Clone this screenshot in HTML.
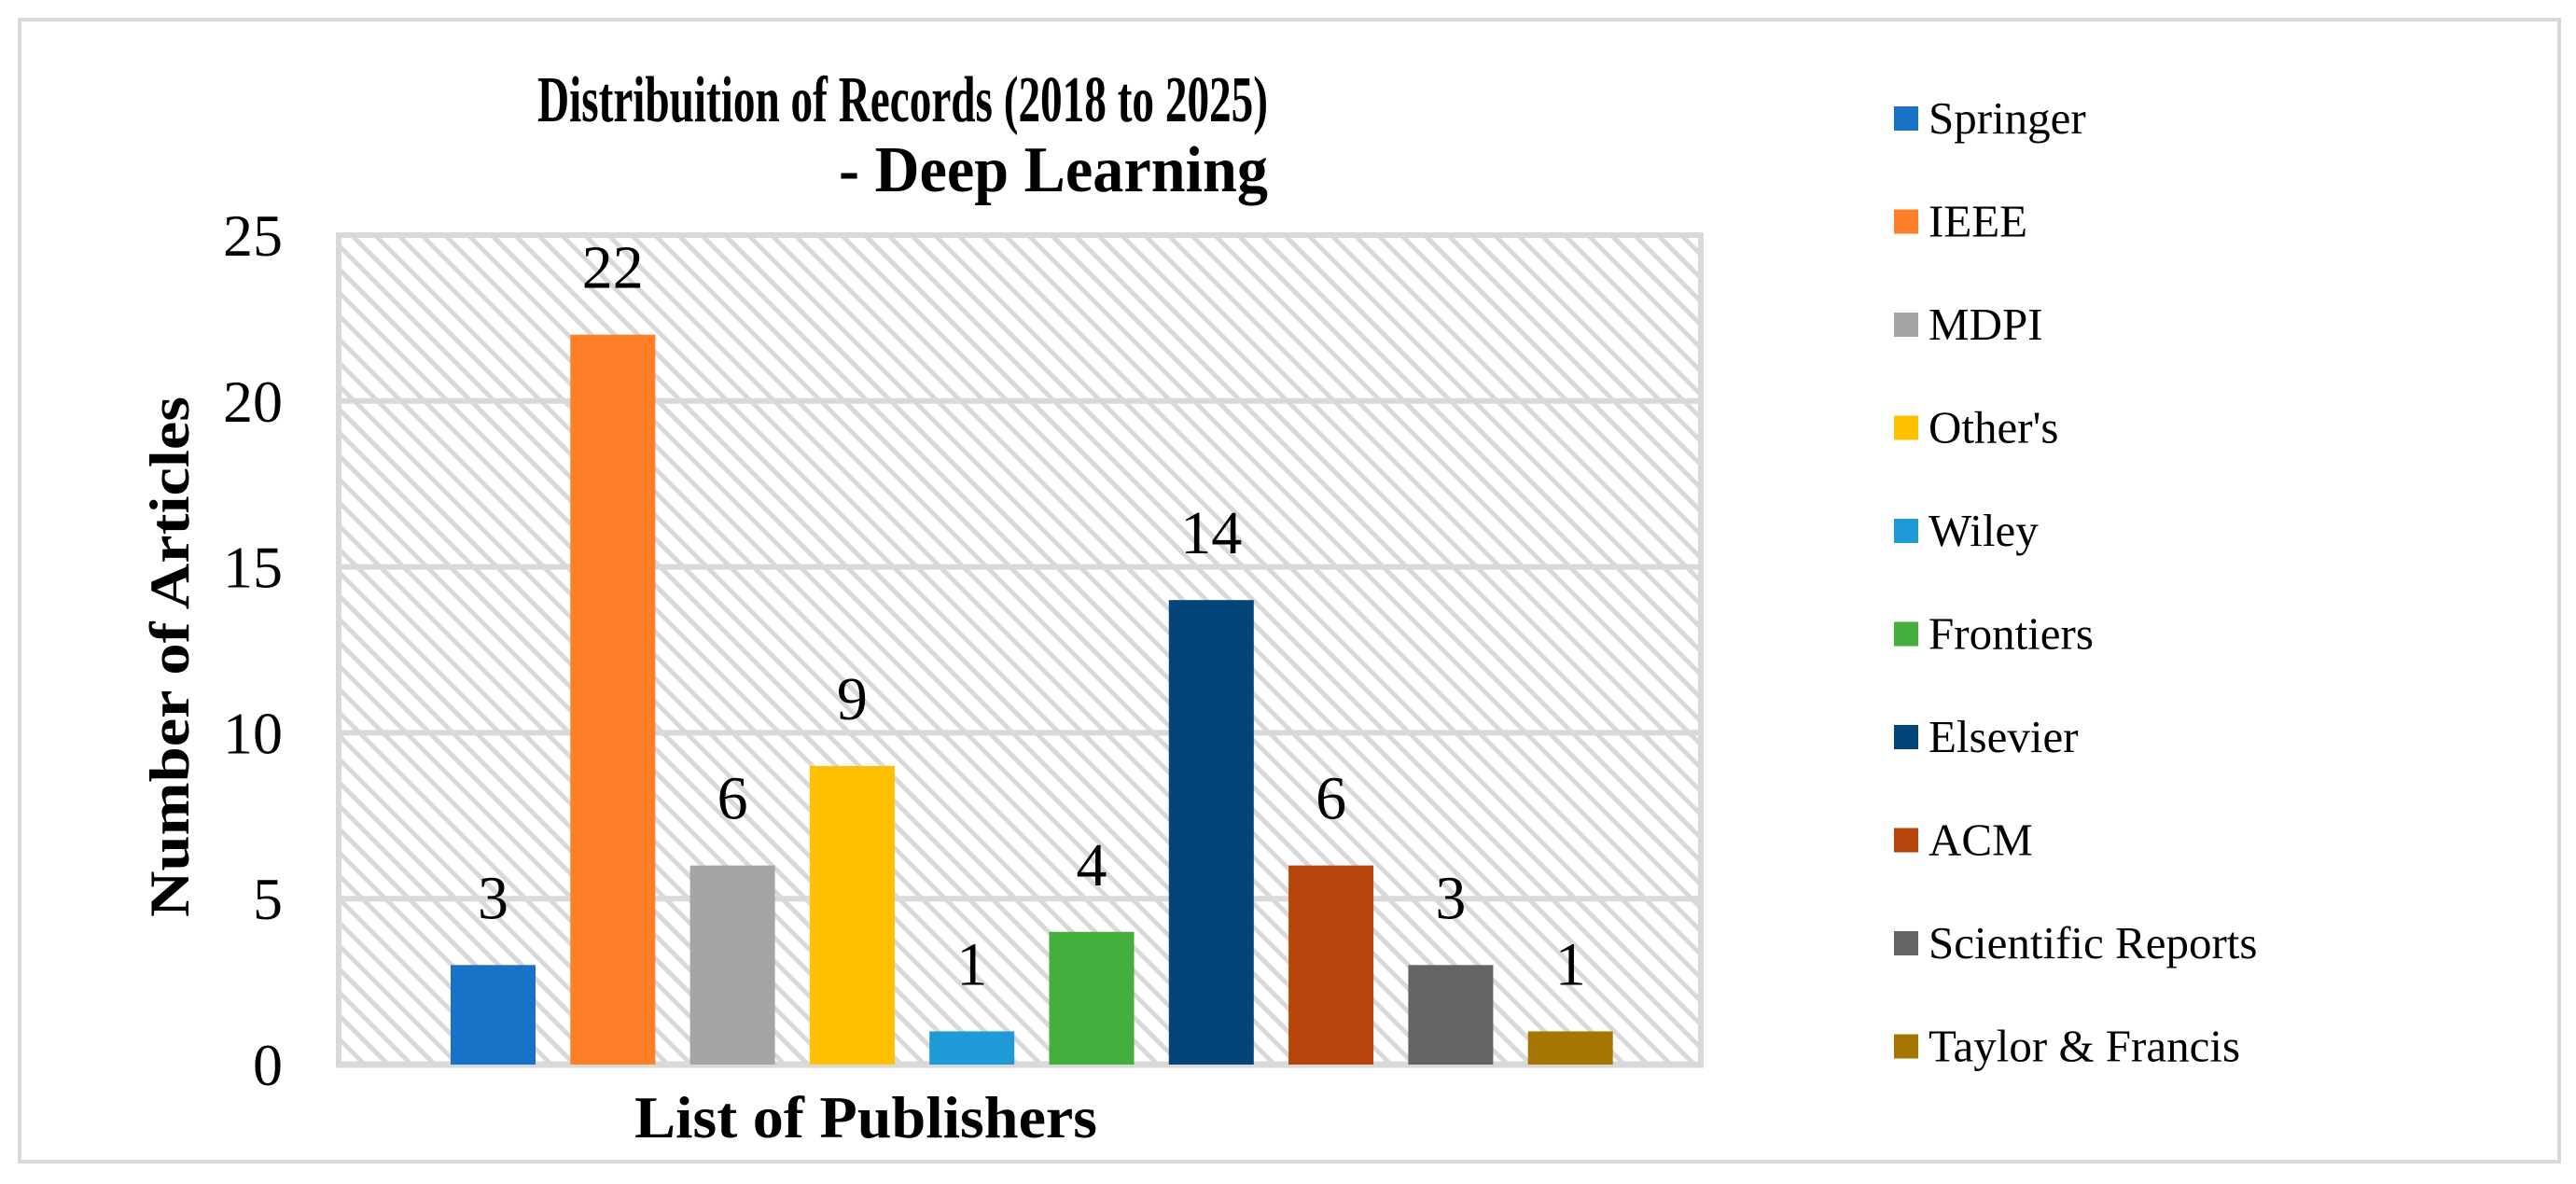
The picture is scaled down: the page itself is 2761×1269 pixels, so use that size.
<!DOCTYPE html>
<html><head><meta charset="utf-8"><style>
html,body{margin:0;padding:0;background:#fff;}
svg{display:block;font-family:"Liberation Serif",serif;}
</style></head><body>
<svg width="2761" height="1269" viewBox="0 0 2761 1269">
<defs>
<pattern id="hatch" width="25" height="25" patternUnits="userSpaceOnUse">
<rect width="25" height="25" fill="#fff"/>
<line x1="-5" y1="-5" x2="30" y2="30" stroke="#d9d9d9" stroke-width="5"/>
<line x1="-30" y1="-5" x2="5" y2="30" stroke="#d9d9d9" stroke-width="5"/>
<line x1="20" y1="-5" x2="55" y2="30" stroke="#d9d9d9" stroke-width="5"/>
</pattern>
</defs>
<rect x="21" y="21" width="2722" height="1224" fill="#fff" stroke="#d9d9d9" stroke-width="4"/>
<text x="1359" y="130" text-anchor="end" font-size="70" font-weight="bold" textLength="783" lengthAdjust="spacingAndGlyphs">Distribuition of Records (2018 to 2025)</text>
<text x="1359" y="205" text-anchor="end" font-size="70" font-weight="bold" textLength="460" lengthAdjust="spacingAndGlyphs">- Deep Learning</text>
<rect x="363" y="252" width="1460" height="889" fill="url(#hatch)" stroke="#d9d9d9" stroke-width="6"/>
<g id="grid"></g>
<g id="bars"></g>
<g id="labels"></g>
<g id="yticks"></g>
<g id="legend"></g>
<text transform="translate(202,704) rotate(-90)" text-anchor="middle" font-size="60" font-weight="bold" textLength="558" lengthAdjust="spacingAndGlyphs">Number of Articles</text>
<text x="928" y="1219" text-anchor="middle" font-size="64" font-weight="bold" textLength="496" lengthAdjust="spacingAndGlyphs">List of Publishers</text>
</svg>
<script>
const categories = ["Springer","IEEE","MDPI","Other's","Wiley","Frontiers","Elsevier","ACM","Scientific Reports","Taylor & Francis"];
const values = [3,22,6,9,1,4,14,6,3,1];
const colors = ["#1872c8","#fe7f27","#a5a5a5","#ffc000","#1e9bd7","#44af3c","#034479","#b5450a","#646464","#a67700"];
const yTicks = [0,5,10,15,20,25];

const NS="http://www.w3.org/2000/svg";
const y0=1141, yTop=252, yMax=25;
function yScale(v){return y0-(v/yMax)*(y0-yTop);}
const firstX=483, step=128.3, bw=91;
function xScale(i){return firstX+i*step;}
function mk(tag,attrs,parent){const e=document.createElementNS(NS,tag);for(const k in attrs)e.setAttribute(k,attrs[k]);document.getElementById(parent).appendChild(e);return e;}

yTicks.forEach(t=>{
  if(t>0&&t<yMax){
    const l=mk('line',{x1:363,x2:1823,y1:yScale(t),y2:yScale(t),stroke:'#d9d9d9','stroke-width':6},'grid');
    
    
  }
  const tx=mk('text',{x:303,y:yScale(t)+22,'text-anchor':'end','font-size':64},'yticks');
  tx.textContent=t;
  
  
});
const ax=mk('line',{x1:360,x2:1826,y1:y0,y2:y0,stroke:'#d9d9d9','stroke-width':7},'grid');



values.forEach((v,i)=>{
  const r=mk('rect',{x:xScale(i),y:yScale(v),width:bw,height:y0-yScale(v),fill:colors[i]},'bars');
  
  
  const t=mk('text',{x:xScale(i)+bw/2,y:yScale(v)-50,'text-anchor':'middle','font-size':66},'labels');
  t.textContent=v;
  
  
});

categories.forEach((c,i)=>{
  const cy=127+i*110.5;
  const s=mk('rect',{x:2030,y:cy-13,width:26,height:26,fill:colors[i]},'legend');
  
  
  const t=mk('text',{x:2067,y:cy+16,'font-size':49},'legend');
  t.textContent=c;
  
  
});
</script>
</body></html>
